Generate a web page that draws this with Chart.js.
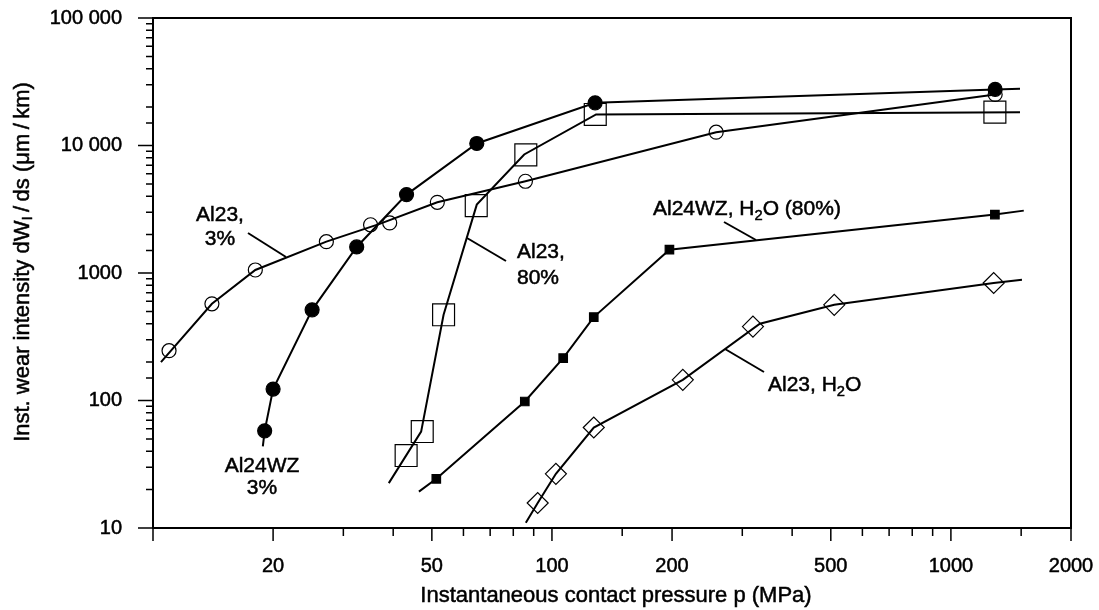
<!DOCTYPE html>
<html>
<head>
<meta charset="utf-8">
<script src="https://cdn.jsdelivr.net/npm/chart.js@4.4.1/dist/chart.umd.min.js"></script>
<style>
  html, body { margin: 0; padding: 0; background: #fff; }
  #wrap { width: 1099px; height: 610px; }
</style>
</head>
<body>
<div id="wrap"><canvas id="wear"></canvas></div>
<script>
// tick labels shown on the axes
const xTickLabels = [20, 50, 100, 200, 500, 1000, 2000];
const yTickLabels = [10, 100, 1000, 10000, 100000];

// Al23, 3%  (open circles)
const al23DryX = [10.97, 14.05, 18.05, 27.2, 35.1, 39.2, 51.6, 85.8, 258, 1291];
const al23DryY = [246, 573, 1056, 1761, 2390, 2470, 3586, 5243, 12720, 25160];
const al23DryLineX = [10.47, 14.05, 18.05, 27.2, 37, 51.6, 85.8, 258, 1291];
const al23DryLineY = [200, 573, 1056, 1761, 2430, 3586, 5243, 12720, 25160];

// Al24WZ, 3%  (filled circles)
const al24DryX = [19.05, 20.0, 25.05, 32.4, 43.2, 64.8, 128.3, 1291];
const al24DryY = [57.8, 123, 514, 1600, 4120, 10370, 21600, 27550];
const al24DryLineX = [18.85, 19.05, 20.0, 25.05, 32.4, 43.2, 64.8, 128.3, 1291, 1490];
const al24DryLineY = [43.6, 57.8, 123, 514, 1600, 4120, 10370, 21600, 27550, 27900];

// Al23, 80%  (open squares)
const al23HumX = [43.1, 47.3, 53.5, 64.6, 86.0, 128.4, 1289];
const al23HumY = [37.0, 57.1, 470, 3379, 8450, 17520, 18260];
const al23HumLineX = [39.0, 47.0, 53.5, 64.8, 85.2, 129, 1490];
const al23HumLineY = [22.5, 57, 470, 3440, 8500, 17520, 18260];

// Al24WZ, H2O (80%)  (small filled squares)
const al24WetX = [51.3, 85.5, 106.7, 127.3, 197, 1289];
const al24WetY = [24.3, 98.2, 215, 451, 1524, 2872];
const al24WetLineX = [46.4, 51.3, 85.5, 106.7, 127.3, 197, 1289, 1523];
const al24WetLineY = [19.3, 24.3, 98.2, 215, 451, 1524, 2872, 3085];

// Al23, H2O  (open diamonds)
const al23WetX = [92.1, 102.3, 127.3, 212.8, 319, 510, 1280];
const al23WetY = [15.7, 26.6, 61.4, 145.3, 380, 563, 835];
const al23WetLineX = [86.0, 92.1, 102.3, 127.3, 212.8, 332, 510, 1280, 1507];
const al23WetLineY = [11.0, 15.7, 26.6, 61.4, 145.3, 400, 563, 835, 886];

const FONT = '"Liberation Sans", Arial, Helvetica, sans-serif';
const TEXT_STROKE = 0.5;   // scanned lettering is a little heavier than plain Arial

function pts(xs, ys) {
  return xs.map((x, i) => ({ x: x, y: ys[i] }));
}

function lineSet(xs, ys) {
  return { data: pts(xs, ys), showLine: true, pointRadius: 0, borderColor: '#000', borderWidth: 2, tension: 0, order: 2 };
}

function markSet(xs, ys, style, r, fill) {
  return {
    data: pts(xs, ys), showLine: false, pointStyle: style, pointRadius: r,
    pointBackgroundColor: fill, pointBorderColor: '#000', pointBorderWidth: 1.2, order: 1
  };
}

function inList(list, v) {
  return list.find(t => Math.abs(t - v) < t * 1e-6);
}

function fmt(v) {
  if (v < 10000) return String(v);
  return String(v).replace(/(\d)(?=(\d{3})+$)/g, '$1 ');
}

// text made of plain and subscript pieces
function richWidth(ctx, parts, size) {
  let w = 0;
  parts.forEach(p => {
    ctx.font = (typeof p === 'string' ? size : size * 0.7) + 'px ' + FONT;
    w += ctx.measureText(typeof p === 'string' ? p : p.sub).width;
  });
  return w;
}

function drawRich(ctx, parts, x, y, size, align) {
  const w = richWidth(ctx, parts, size);
  let cx = align === 'center' ? x - w / 2 : x;
  ctx.textAlign = 'left';
  ctx.lineWidth = TEXT_STROKE;
  parts.forEach(p => {
    const sub = typeof p !== 'string';
    const s = sub ? p.sub : p;
    const yy = sub ? y + size * 0.22 : y;
    ctx.font = (sub ? size * 0.7 : size) + 'px ' + FONT;
    ctx.fillText(s, cx, yy);
    ctx.strokeText(s, cx, yy);
    cx += ctx.measureText(s).width;
  });
}

const notes = [
  { lines: [['Al23,'], ['3%']], x: 220, y: [221, 245], align: 'center', leader: [248, 233, 286, 257] },
  { lines: [['Al24WZ'], ['3%']], x: 262, y: [472, 494], align: 'center', leader: null },
  { lines: [['Al23,'], ['80%']], x: 517, y: [258, 284], align: 'left', leader: [467, 238, 506, 261] },
  { lines: [['Al24WZ, H', { sub: '2' }, 'O (80%)']], x: 653, y: [215], align: 'left', leader: [724, 222, 756, 240] },
  { lines: [['Al23, H', { sub: '2' }, 'O']], x: 768, y: [391], align: 'left', leader: [725, 349, 764, 372] }
];

const decorations = {
  id: 'decorations',
  afterDraw(chart) {
    const { ctx, chartArea: a, scales: { x, y } } = chart;
    ctx.save();
    ctx.strokeStyle = '#000';
    ctx.fillStyle = '#000';

    // tick marks
    ctx.lineWidth = 1.5;
    ctx.beginPath();
    x.ticks.forEach(t => {
      const px = x.getPixelForValue(t.value);
      const len = (inList(xTickLabels, t.value) || t.value === 10) ? 13 : 8;
      ctx.moveTo(px, a.bottom);
      ctx.lineTo(px, a.bottom + len);
    });
    y.ticks.forEach(t => {
      const py = y.getPixelForValue(t.value);
      const len = inList(yTickLabels, t.value) ? 15 : 7;
      ctx.moveTo(a.left, py);
      ctx.lineTo(a.left - len, py);
    });
    ctx.stroke();

    // frame
    ctx.lineWidth = 2;
    ctx.strokeRect(a.left, a.top, a.right - a.left, a.bottom - a.top);

    // leaders and labels
    ctx.textBaseline = 'alphabetic';
    notes.forEach(n => {
      n.lines.forEach((parts, i) => drawRich(ctx, parts, n.x, n.y[i], 21, n.align));
      if (n.leader) {
        ctx.lineWidth = 2;
        ctx.beginPath();
        ctx.moveTo(n.leader[0], n.leader[1]);
        ctx.lineTo(n.leader[2], n.leader[3]);
        ctx.stroke();
      }
    });

    // axis titles
    ctx.textBaseline = 'middle';
    drawRich(ctx, ['Instantaneous contact pressure p (MPa)'], 616, 596, 22, 'center');
    ctx.save();
    ctx.translate(23, 262);
    ctx.rotate(-Math.PI / 2);
    drawRich(ctx, ['Inst. wear intensity dW', { sub: 'I' }, '\u2009/\u2009ds (\u03bcm\u2009/\u2009km)'], 0, 0, 22, 'center');
    ctx.restore();
    ctx.restore();
  }
};

Chart.defaults.font.family = FONT;
Chart.defaults.color = '#000';

// invisible tick marks only push the labels away from the axes
const hiddenGrid = len => ({ display: true, drawOnChartArea: false, drawTicks: true, tickLength: len, color: 'transparent', tickColor: 'transparent' });

const tickFont = { size: 20 };

new Chart(document.getElementById('wear'), {
  type: 'scatter',
  data: {
    datasets: [
      lineSet(al23DryLineX, al23DryLineY),
      lineSet(al24DryLineX, al24DryLineY),
      lineSet(al23HumLineX, al23HumLineY),
      lineSet(al24WetLineX, al24WetLineY),
      lineSet(al23WetLineX, al23WetLineY),
      markSet(al23DryX, al23DryY, 'circle', 7, 'transparent'),
      markSet(al24DryX, al24DryY, 'circle', 7, '#000'),
      markSet(al23HumX, al23HumY, 'rect', 15.5, 'transparent'),
      markSet(al24WetX, al24WetY, 'rect', 6, '#000'),
      markSet(al23WetX, al23WetY, 'rectRot', 10.5, 'transparent')
    ]
  },
  options: {
    responsive: true,
    maintainAspectRatio: false,
    animation: false,
    events: [],
    layout: { padding: { top: 18, right: 28, left: 0, bottom: 0 } },
    plugins: { legend: { display: false }, tooltip: { enabled: false } },
    scales: {
      x: {
        type: 'logarithmic',
        min: 10,
        max: 2000,
        grid: hiddenGrid(26),
        border: { display: false },
        afterFit: s => { s.height = 82; },
        ticks: {
          autoSkip: false,
          maxRotation: 0,
          minRotation: 0,
          padding: 0,
          font: tickFont,
          textStrokeColor: '#000',
          textStrokeWidth: TEXT_STROKE,
          callback: v => { const h = inList(xTickLabels, v); return h ? fmt(h) : ''; }
        }
      },
      y: {
        type: 'logarithmic',
        min: 10,
        max: 100000,
        grid: hiddenGrid(31),
        border: { display: false },
        afterFit: s => { s.width = 153; },
        ticks: {
          autoSkip: false,
          padding: 0,
          font: tickFont,
          textStrokeColor: '#000',
          textStrokeWidth: TEXT_STROKE,
          callback: v => { const h = inList(yTickLabels, v); return h ? fmt(h) : ''; }
        }
      }
    }
  },
  plugins: [decorations]
});
</script>
</body>
</html>
